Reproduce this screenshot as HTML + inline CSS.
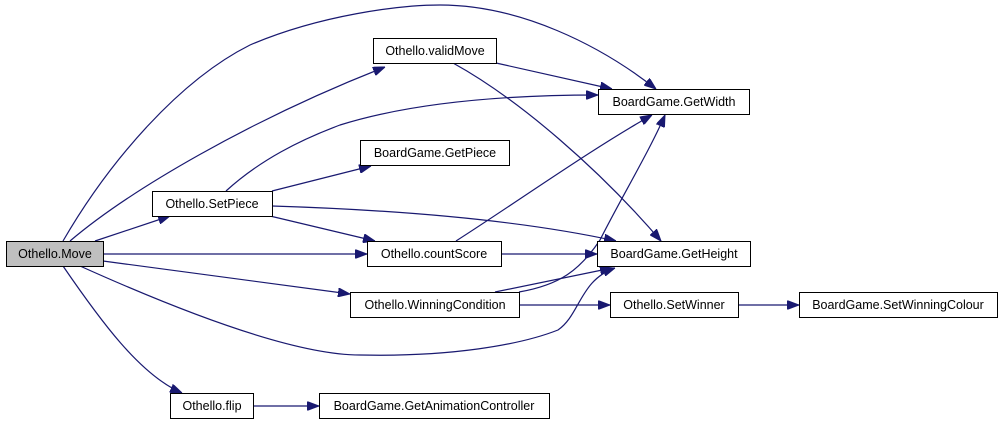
<!DOCTYPE html>
<html><head><style>
body{margin:0;background:#fff;}
svg{display:block;}
text{font-family:"Liberation Sans",Arial,sans-serif;font-size:12.5px;fill:#000;}
</style></head><body>
<svg width="1005" height="425" viewBox="0 0 1005 425" xmlns="http://www.w3.org/2000/svg">
<defs>
<marker id="a" markerWidth="12" markerHeight="9" refX="12" refY="4.5" orient="auto" markerUnits="userSpaceOnUse">
<path d="M0,0 L12,4.5 L0,9 Z" fill="#191970" stroke="#191970"/>
</marker>
</defs>
<g fill="none" stroke="#191970" stroke-width="1.2" marker-end="url(#a)">
<path d="M63,241 C110,160 180,80 250,45 C320,15 400,5 440,5 C520,5 600,45 656,89"/>
<path d="M70,241 C130,190 250,120 385,67"/>
<path d="M95,241 L170,216"/>
<path d="M103,254 L367,254"/>
<path d="M103,261 L350,294"/>
<path d="M80,266 C200,320 300,355 360,355 C450,357 520,345 558,330 C580,315 580,280 615,268"/>
<path d="M63,266 C100,320 140,375 182,393"/>
<path d="M253,406 L319,406"/>
<path d="M496,63 L612,89"/>
<path d="M453,63 C520,100 600,170 661,241"/>
<path d="M226,191 C260,160 300,140 340,125 C420,100 520,95 598,95"/>
<path d="M272,191 L371,166"/>
<path d="M272,206 C400,210 520,220 616,241"/>
<path d="M270,216 L375,241"/>
<path d="M456,241 C520,200 590,150 652,115"/>
<path d="M501,254 L597,254"/>
<path d="M519,292 C560,285 580,270 600,240 C620,200 650,150 665,115"/>
<path d="M495,292 L612,268"/>
<path d="M519,305 L610,305"/>
<path d="M738,305 L799,305"/>
</g>
<g stroke="#000" stroke-width="1">
<rect x="6.5" y="241.5" width="97" height="25" fill="#bfbfbf"/>
<rect x="373.5" y="38.5" width="123" height="25" fill="#fff"/>
<rect x="360.5" y="140.5" width="149" height="25" fill="#fff"/>
<rect x="152.5" y="191.5" width="120" height="25" fill="#fff"/>
<rect x="367.5" y="241.5" width="134" height="25" fill="#fff"/>
<rect x="350.5" y="292.5" width="169" height="25" fill="#fff"/>
<rect x="170.5" y="393.5" width="83" height="25" fill="#fff"/>
<rect x="319.5" y="393.5" width="230" height="25" fill="#fff"/>
<rect x="598.5" y="89.5" width="151" height="25" fill="#fff"/>
<rect x="597.5" y="241.5" width="153" height="25" fill="#fff"/>
<rect x="610.5" y="292.5" width="128" height="25" fill="#fff"/>
<rect x="799.5" y="292.5" width="198" height="25" fill="#fff"/>
</g>
<g text-anchor="middle">
<text x="55" y="258">Othello.Move</text>
<text x="435" y="55">Othello.validMove</text>
<text x="435" y="157">BoardGame.GetPiece</text>
<text x="212" y="208">Othello.SetPiece</text>
<text x="434" y="258">Othello.countScore</text>
<text x="435" y="309">Othello.WinningCondition</text>
<text x="212" y="410">Othello.flip</text>
<text x="434" y="410">BoardGame.GetAnimationController</text>
<text x="674" y="106">BoardGame.GetWidth</text>
<text x="674" y="258">BoardGame.GetHeight</text>
<text x="674" y="309">Othello.SetWinner</text>
<text x="898" y="309">BoardGame.SetWinningColour</text>
</g>
</svg>
</body></html>
